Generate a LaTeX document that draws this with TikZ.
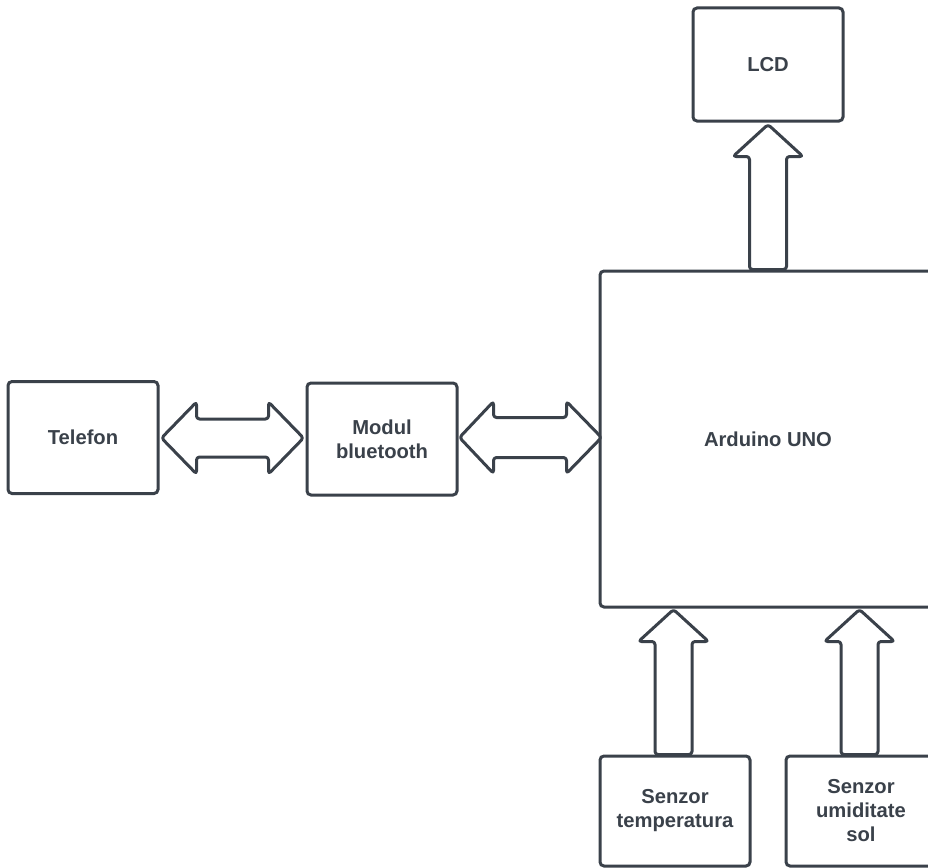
\documentclass[tikz,border=0pt]{standalone}
\usepackage{fontspec}
\setmainfont{Liberation Sans}
\usetikzlibrary{calc}
\definecolor{ink}{HTML}{3A414A}
\tikzset{
  blk/.style={draw=ink, line width=3pt, rounded corners=4pt, fill=white,
    text=ink, align=center, inner sep=0pt,
    font=\fontsize{20.2}{24}\selectfont\bfseries},
  barrow/.style={draw=ink, line width=3pt, line join=round, rounded corners=3pt, fill=white},
}
\begin{document}
\begin{tikzpicture}[x=1pt,y=-1pt]
\useasboundingbox (0,0) rectangle (928,867);
\clip (0,0) rectangle (928,867);
% boxes
\node[blk, minimum width=150pt, minimum height=112pt] (tel) at (83,437.5) {Telefon};
\node[blk, minimum width=150pt, minimum height=112pt] (mod) at (382,439) {Modul\\bluetooth};
\node[blk, minimum width=336pt, minimum height=336pt] (ard) at (768,439) {Arduino UNO};
\node[blk, minimum width=150pt, minimum height=113pt] (lcd) at (768,64.5) {LCD};
\node[blk, minimum width=150pt, minimum height=110pt] (tmp) at (675,811) {Senzor\\temperatura};
\node[blk, minimum width=150pt, minimum height=110pt] (umd) at (861,811) {Senzor\\umiditate\\sol};
% anchors for arrows
\coordinate (a1l) at ($(tel.east)+(2,0.5)$);
\coordinate (a1r) at ($(mod.west)+(-2,-1)$);
\coordinate (a2l) at ($(mod.east)+(1,-1.5)$);
\coordinate (a2r) at ($(ard.west)+(3,-1.5)$);
% double arrows (horizontal)
\draw[barrow] let \p1=(a1l), \p2=(a1r) in
  (\x1,\y1) -- (\x1+35,\y1+36) -- (\x1+35,\y1+19)
  -- (\x2-35,\y1+19) -- (\x2-35,\y1+36) -- (\x2,\y1)
  -- (\x2-35,\y1-36) -- (\x2-35,\y1-19)
  -- (\x1+35,\y1-19) -- (\x1+35,\y1-36) -- cycle;
\draw[barrow] let \p1=(a2l), \p2=(a2r) in
  (\x1,\y1) -- (\x1+34,\y1+36) -- (\x1+34,\y1+20)
  -- (\x2-35,\y1+20) -- (\x2-35,\y1+36) -- (\x2,\y1)
  -- (\x2-35,\y1-36) -- (\x2-35,\y1-20)
  -- (\x1+34,\y1-20) -- (\x1+34,\y1-36) -- cycle;
% up arrows (tip at second point)
\coordinate (u1b) at (ard.north);
\coordinate (u1t) at ($(lcd.south)+(0,2)$);
\coordinate (u2b) at (tmp.north);
\coordinate (u2t) at ($(ard.south west)+(75,1)$);
\coordinate (u3b) at ($(umd.north)+(0,0)$);
\coordinate (u3t) at ($(ard.south west)+(261,1)$);
\foreach \b/\t in {u1b/u1t,u2b/u2t,u3b/u3t}{
\draw[barrow] let \p1=(\b), \p2=(\t) in
  (\x2-18.5,\y1) -- (\x2-18.5,\y2-32) -- (\x2-35,\y2-32) -- (\x2,\y2)
  -- (\x2+35,\y2-32) -- (\x2+18.5,\y2-32) -- (\x2+18.5,\y1) -- cycle;
}
\end{tikzpicture}
\end{document}
